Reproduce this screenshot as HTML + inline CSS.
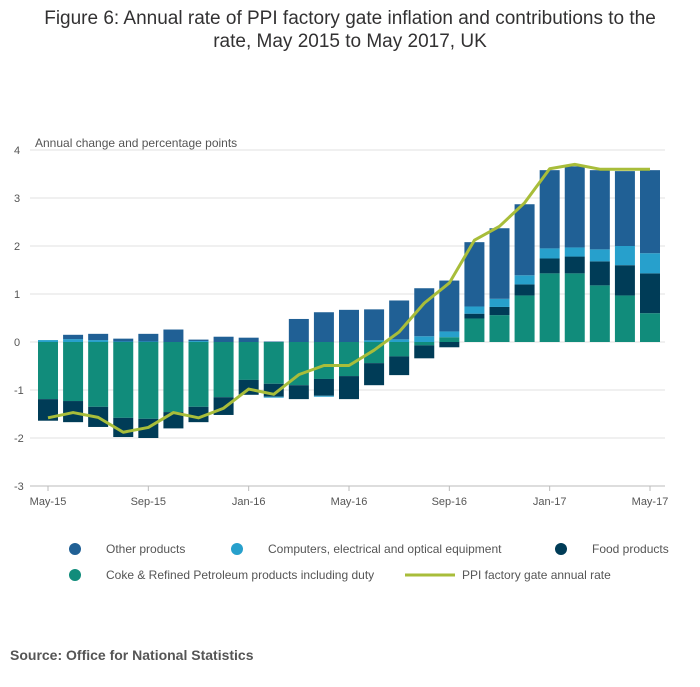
<!DOCTYPE html>
<html><head><meta charset="utf-8"><style>
body{margin:0;background:#fff;font-family:"Liberation Sans",sans-serif;}
svg text{font-family:"Liberation Sans",sans-serif;}
</style></head><body>
<svg width="700" height="682" xmlns="http://www.w3.org/2000/svg">
<text x="350" y="24" text-anchor="middle" font-size="19" fill="#323132">Figure 6: Annual rate of PPI factory gate inflation and contributions to the</text>
<text x="350" y="47" text-anchor="middle" font-size="19" fill="#323132">rate, May 2015 to May 2017, UK</text>
<text x="35" y="147" font-size="12" fill="#555">Annual change and percentage points</text>
<g id="grid"></g><g id="bars"></g><g id="line"></g><g id="xaxis"></g>
<g font-size="12" fill="#555">
<circle cx="75" cy="549" r="6" fill="#206095"/><text x="106" y="553">Other products</text>
<circle cx="237" cy="549" r="6" fill="#27a0cc"/><text x="268" y="553">Computers, electrical and optical equipment</text>
<circle cx="561" cy="549" r="6" fill="#003c57"/><text x="592" y="553">Food products</text>
<circle cx="75" cy="575" r="6" fill="#118c7b"/><text x="106" y="579">Coke &amp; Refined Petroleum products including duty</text>
<line x1="405" y1="575" x2="455" y2="575" stroke="#a8bd3a" stroke-width="3"/><text x="462" y="579">PPI factory gate annual rate</text>
</g>
<text x="10" y="660" font-size="14" font-weight="bold" fill="#555">Source: Office for National Statistics</text>
</svg>
<script>
const months=["May-15","Jun-15","Jul-15","Aug-15","Sep-15","Oct-15","Nov-15","Dec-15","Jan-16","Feb-16","Mar-16","Apr-16","May-16","Jun-16","Jul-16","Aug-16","Sep-16","Oct-16","Nov-16","Dec-16","Jan-17","Feb-17","Mar-17","Apr-17","May-17"];
const coke=[-1.19,-1.23,-1.35,-1.58,-1.6,-1.46,-1.35,-1.15,-0.79,-0.87,-0.9,-0.77,-0.71,-0.44,-0.3,-0.07,0.1,0.49,0.56,0.97,1.43,1.43,1.18,0.97,0.6];
const food=[-0.45,-0.44,-0.42,-0.4,-0.4,-0.34,-0.32,-0.37,-0.31,-0.27,-0.29,-0.35,-0.48,-0.46,-0.39,-0.27,-0.11,0.1,0.17,0.23,0.31,0.35,0.5,0.63,0.83];
const computers=[0.04,0.06,0.04,0.01,0.01,0,0.02,0,0,-0.02,0,-0.02,0,0.035,0.055,0.12,0.12,0.15,0.17,0.19,0.21,0.19,0.25,0.4,0.42];
const other=[0,0.09,0.13,0.06,0.16,0.26,0.03,0.11,0.09,0.01,0.48,0.62,0.67,0.645,0.81,1.0,1.06,1.34,1.47,1.48,1.63,1.69,1.65,1.56,1.73];
const ppi=[-1.58,-1.47,-1.57,-1.88,-1.78,-1.47,-1.58,-1.38,-0.98,-1.09,-0.68,-0.49,-0.49,-0.17,0.21,0.81,1.23,2.12,2.41,2.9,3.61,3.7,3.6,3.6,3.6];
const yTicks=[4,3,2,1,0,-1,-2,-3];
const xTickIdx=[0,4,8,12,16,20,24];
const NS="http://www.w3.org/2000/svg";
const y=v=>342-v*48;
const x=i=>48+i*(602/24);
function mk(tag,attrs,parent){const e=document.createElementNS(NS,tag);for(const k in attrs)e.setAttribute(k,attrs[k]);parent.appendChild(e);return e;}
const grid=document.getElementById('grid'),bars=document.getElementById('bars'),lineG=document.getElementById('line'),xa=document.getElementById('xaxis');
yTicks.forEach(t=>{
 const l=mk('line',{x1:30,x2:665,y1:y(t),y2:y(t),stroke:t==-3?'#bbb':'#e2e2e2','stroke-width':1},grid);
 
 
 const tx=mk('text',{x:14,y:y(t)+4,'font-size':11,fill:'#555'},grid);tx.textContent=t;
 
 
});
const series=[[coke,'#118c7b','coke'],[food,'#003c57','food'],[computers,'#27a0cc','computers'],[other,'#206095','other']];
months.forEach((m,i)=>{
 let pos=0,neg=0;
 series.forEach(([arr,c,n])=>{
  const v=arr[i];if(!v)return;
  let a,b;if(v>0){a=pos;b=pos+v;pos=b;}else{a=neg;b=neg+v;neg=b;}
  const r=mk('rect',{x:x(i)-10,y:Math.min(y(a),y(b)),width:20,height:Math.abs(y(a)-y(b)),fill:c},bars);
  
  
 });
});
const pl=mk('polyline',{points:ppi.map((v,i)=>x(i)+','+y(v)).join(' '),fill:'none',stroke:'#a8bd3a','stroke-width':3,'stroke-linejoin':'round'},lineG);


xTickIdx.forEach(i=>{
 const tk=mk('line',{x1:x(i),x2:x(i),y1:486,y2:491,stroke:'#bbb'},xa);
 
 
 const t=mk('text',{x:x(i),y:505,'text-anchor':'middle','font-size':11,fill:'#555'},xa);t.textContent=months[i];
 
 
});
</script>
</body></html>
